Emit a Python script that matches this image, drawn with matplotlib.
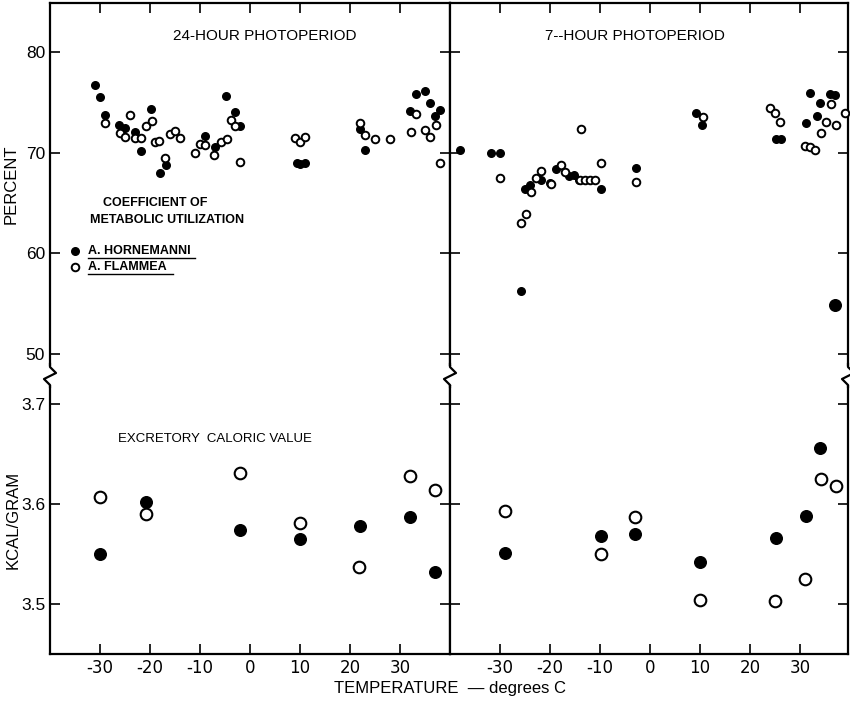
import matplotlib.pyplot as plt
from matplotlib.lines import Line2D

plt.rcParams['font.family'] = ['Liberation Sans', 'DejaVu Sans']

# ---- coefficient of metabolic utilization (percent) ----
# 24-hour photoperiod
hor24_t = [-31, -30.1, -29, -26.2, -25, -23, -21.9, -19.9, -18, -16.8, -9, -7, -4.8, -3, -2.1,
           9.3, 10, 11, 21.9, 23, 32, 33.2, 35, 35.9, 37, 37.9]
hor24_pct = [76.7, 75.5, 73.7, 72.7, 72.4, 72.0, 70.2, 74.3, 68.0, 68.8, 71.6, 70.5, 75.6, 74.0, 72.6,
             69.0, 68.9, 69.0, 72.3, 70.3, 74.1, 75.8, 76.1, 74.9, 73.6, 74.2]
fla24_t = [-29, -26.1, -25, -24, -23.1, -21.9, -20.8, -19.7, -19.1, -18.2, -17.1, -16, -15, -14,
           -11, -10.1, -9.1, -7.2, -5.8, -4.7, -3.8, -3, -2, 9, 10, 11, 22, 23, 25, 28,
           32.1, 33.2, 35, 36, 37.1, 38]
fla24_pct = [72.9, 71.9, 71.5, 73.7, 71.4, 71.4, 72.6, 73.1, 71.0, 71.1, 69.5, 71.8, 72.1, 71.4,
             70.0, 70.8, 70.7, 69.8, 71.0, 71.3, 73.2, 72.6, 69.1, 71.4, 71.0, 71.5, 72.9, 71.7,
             71.3, 71.3, 72.0, 73.8, 72.2, 71.5, 72.7, 69.0]

# 7-hour photoperiod
hor7_t = [-38, -31.9, -30, -25.9, -25, -24, -21.8, -20, -18.9, -16.3, -15.3, -14.2, -9.9, -2.9,
          9.1, 10.3, 25.2, 26.1, 31.1, 32, 33.3, 34, 35.9, 37]
hor7_pct = [70.3, 70.0, 70.0, 56.2, 66.4, 66.8, 67.3, 67.0, 68.4, 67.7, 67.8, 67.3, 66.4, 68.5,
            73.9, 72.7, 71.3, 71.3, 72.9, 75.9, 73.6, 74.9, 75.8, 75.7]
hor7_big_t = [37]
hor7_big_pct = [54.9]
fla7_t = [-30, -25.9, -24.8, -23.9, -22.8, -21.9, -19.9, -17.9, -17, -14, -13, -12, -11.1, -13.9,
          -9.9, -2.9, 10.5, 24, 25, 26, 30.9, 32, 33, 34.1, 35.1, 36.2, 37.1, 39]
fla7_pct = [67.5, 63.0, 63.9, 66.1, 67.5, 68.2, 66.9, 68.8, 68.1, 67.3, 67.3, 67.3, 67.3, 72.3,
            69.0, 67.1, 73.5, 74.4, 73.9, 73.0, 70.6, 70.5, 70.3, 71.9, 73.0, 74.8, 72.7, 73.9]

# ---- excretory caloric value (kcal/gram) ----
hor24_kc_t = [-30, -20.9, -2, 10, 22, 32, 37]
hor24_kcal = [3.550, 3.602, 3.574, 3.565, 3.578, 3.587, 3.532]
fla24_kc_t = [-30.1, -20.9, -2, 10, 21.8, 32, 37]
fla24_kcal = [3.607, 3.590, 3.631, 3.581, 3.537, 3.628, 3.614]
hor7_kc_t = [-29, -9.9, -3, 10, 25.1, 31.1, 34]
hor7_kcal = [3.551, 3.568, 3.570, 3.542, 3.566, 3.588, 3.656]
fla7_kc_t = [-29.1, -9.9, -3, 10, 25, 31, 34.1, 37.1]
fla7_kcal = [3.593, 3.550, 3.587, 3.504, 3.503, 3.525, 3.625, 3.618]

xticks = [-30, -20, -10, 0, 10, 20, 30]
pct_ticks = [50, 60, 70, 80]
kcal_ticks = [3.5, 3.6, 3.7]

W, H = 850, 702
fig = plt.figure(figsize=(W / 100, H / 100), dpi=100)


def box(x0, y0, x1, y1):
    return [x0 / W, 1 - y1 / H, (x1 - x0) / W, (y1 - y0) / H]


ax_tl = fig.add_axes(box(50, 3, 450, 365))
ax_tr = fig.add_axes(box(450, 3, 848, 365))
ax_bl = fig.add_axes(box(50, 386, 450, 654))
ax_br = fig.add_axes(box(450, 386, 848, 654))

lw = 1.6
for ax in [ax_tl, ax_tr, ax_bl, ax_br]:
    for s in ax.spines.values():
        s.set_linewidth(lw)
    ax.tick_params(direction='in', length=7, width=1.2, left=True, right=True,
                   labelleft=False, labelsize=12.5)
    ax.set_xticks(xticks)
for ax in [ax_tl, ax_bl]:
    ax.set_xlim(-40, 40)
for ax in [ax_tr, ax_br]:
    ax.set_xlim(-40, 39.6)

for ax in [ax_tl, ax_tr]:
    ax.spines['bottom'].set_visible(False)
    ax.set_ylim(48.9, 84.85)
    ax.set_yticks(pct_ticks)
    ax.tick_params(axis='x', top=True, bottom=False, labelbottom=False)
for ax in [ax_bl, ax_br]:
    ax.spines['top'].set_visible(False)
    ax.set_ylim(3.45, 3.718)
    ax.set_yticks(kcal_ticks)
    ax.tick_params(axis='x', top=False, bottom=True, labelbottom=True, labelsize=12)
    ax.set_xticklabels([str(t) for t in xticks], family=['Liberation Sans Narrow', 'DejaVu Sans'])

ax_tl.tick_params(axis='y', labelleft=True)
ax_bl.tick_params(axis='y', labelleft=True)

ms_small = 30
ms_big = 70
ax_tl.scatter(hor24_t, hor24_pct, s=ms_small, c='black', zorder=3)
ax_tl.scatter(fla24_t, fla24_pct, s=ms_small, facecolors='white', edgecolors='black', linewidths=1.4, zorder=3)
ax_tr.scatter(hor7_t, hor7_pct, s=ms_small, c='black', zorder=3)
ax_tr.scatter(hor7_big_t, hor7_big_pct, s=ms_big, c='black', zorder=3)
ax_tr.scatter(fla7_t, fla7_pct, s=ms_small, facecolors='white', edgecolors='black', linewidths=1.4, zorder=3,
              clip_on=False)

ax_bl.scatter(hor24_kc_t, hor24_kcal, s=ms_big, c='black', zorder=3)
ax_bl.scatter(fla24_kc_t, fla24_kcal, s=ms_big, facecolors='white', edgecolors='black', linewidths=1.5, zorder=3)
ax_br.scatter(hor7_kc_t, hor7_kcal, s=ms_big, c='black', zorder=3)
ax_br.scatter(fla7_kc_t, fla7_kcal, s=ms_big, facecolors='white', edgecolors='black', linewidths=1.5, zorder=3)

# titles and notes
ax_tl.text(3, 81.6, '24-HOUR PHOTOPERIOD', ha='center', va='center', fontsize=11)
ax_tr.text(-3, 81.6, '7--HOUR PHOTOPERIOD', ha='center', va='center', fontsize=11)
ax_tl.text(-19, 65.0, 'COEFFICIENT OF', ha='center', va='center', fontsize=9, weight='bold')
ax_tl.text(-16.5, 63.3, 'METABOLIC UTILIZATION', ha='center', va='center', fontsize=9, weight='bold')
ax_bl.text(-26.5, 3.665, 'EXCRETORY  CALORIC VALUE', ha='left', va='center', fontsize=9.5)

# legend drawn by hand
ax_tl.scatter([-35], [60.2], s=ms_small, c='black', clip_on=False)
ax_tl.scatter([-35], [58.6], s=ms_small, facecolors='white', edgecolors='black', linewidths=1.4, clip_on=False)
ax_tl.text(-32.4, 60.2, 'A. HORNEMANNI', ha='left', va='center', fontsize=9, weight='bold')
ax_tl.text(-32.4, 58.6, 'A. FLAMMEA', ha='left', va='center', fontsize=9, weight='bold')
ax_tl.plot([-32.4, -11], [59.5, 59.5], color='black', lw=1)
ax_tl.plot([-32.4, -15.5], [57.9, 57.9], color='black', lw=1)

ax_tl.set_ylabel('PERCENT', fontsize=12, labelpad=5)
ax_bl.set_ylabel('KCAL/GRAM', fontsize=12, labelpad=0)
fig.text(450 / W, 1 - 688 / H, 'TEMPERATURE  \u2014 degrees C', ha='center', va='center', fontsize=12)

# axis break marks
for xb in [50, 450, 848]:
    xs = [xb, xb, xb + 6, xb - 6, xb, xb]
    ys = [364, 367, 373, 379, 385, 387]
    fig.add_artist(Line2D([x / W for x in xs], [1 - y / H for y in ys],
                          transform=fig.transFigure, color='black', lw=lw))

fig.savefig('out.png', dpi=100)
